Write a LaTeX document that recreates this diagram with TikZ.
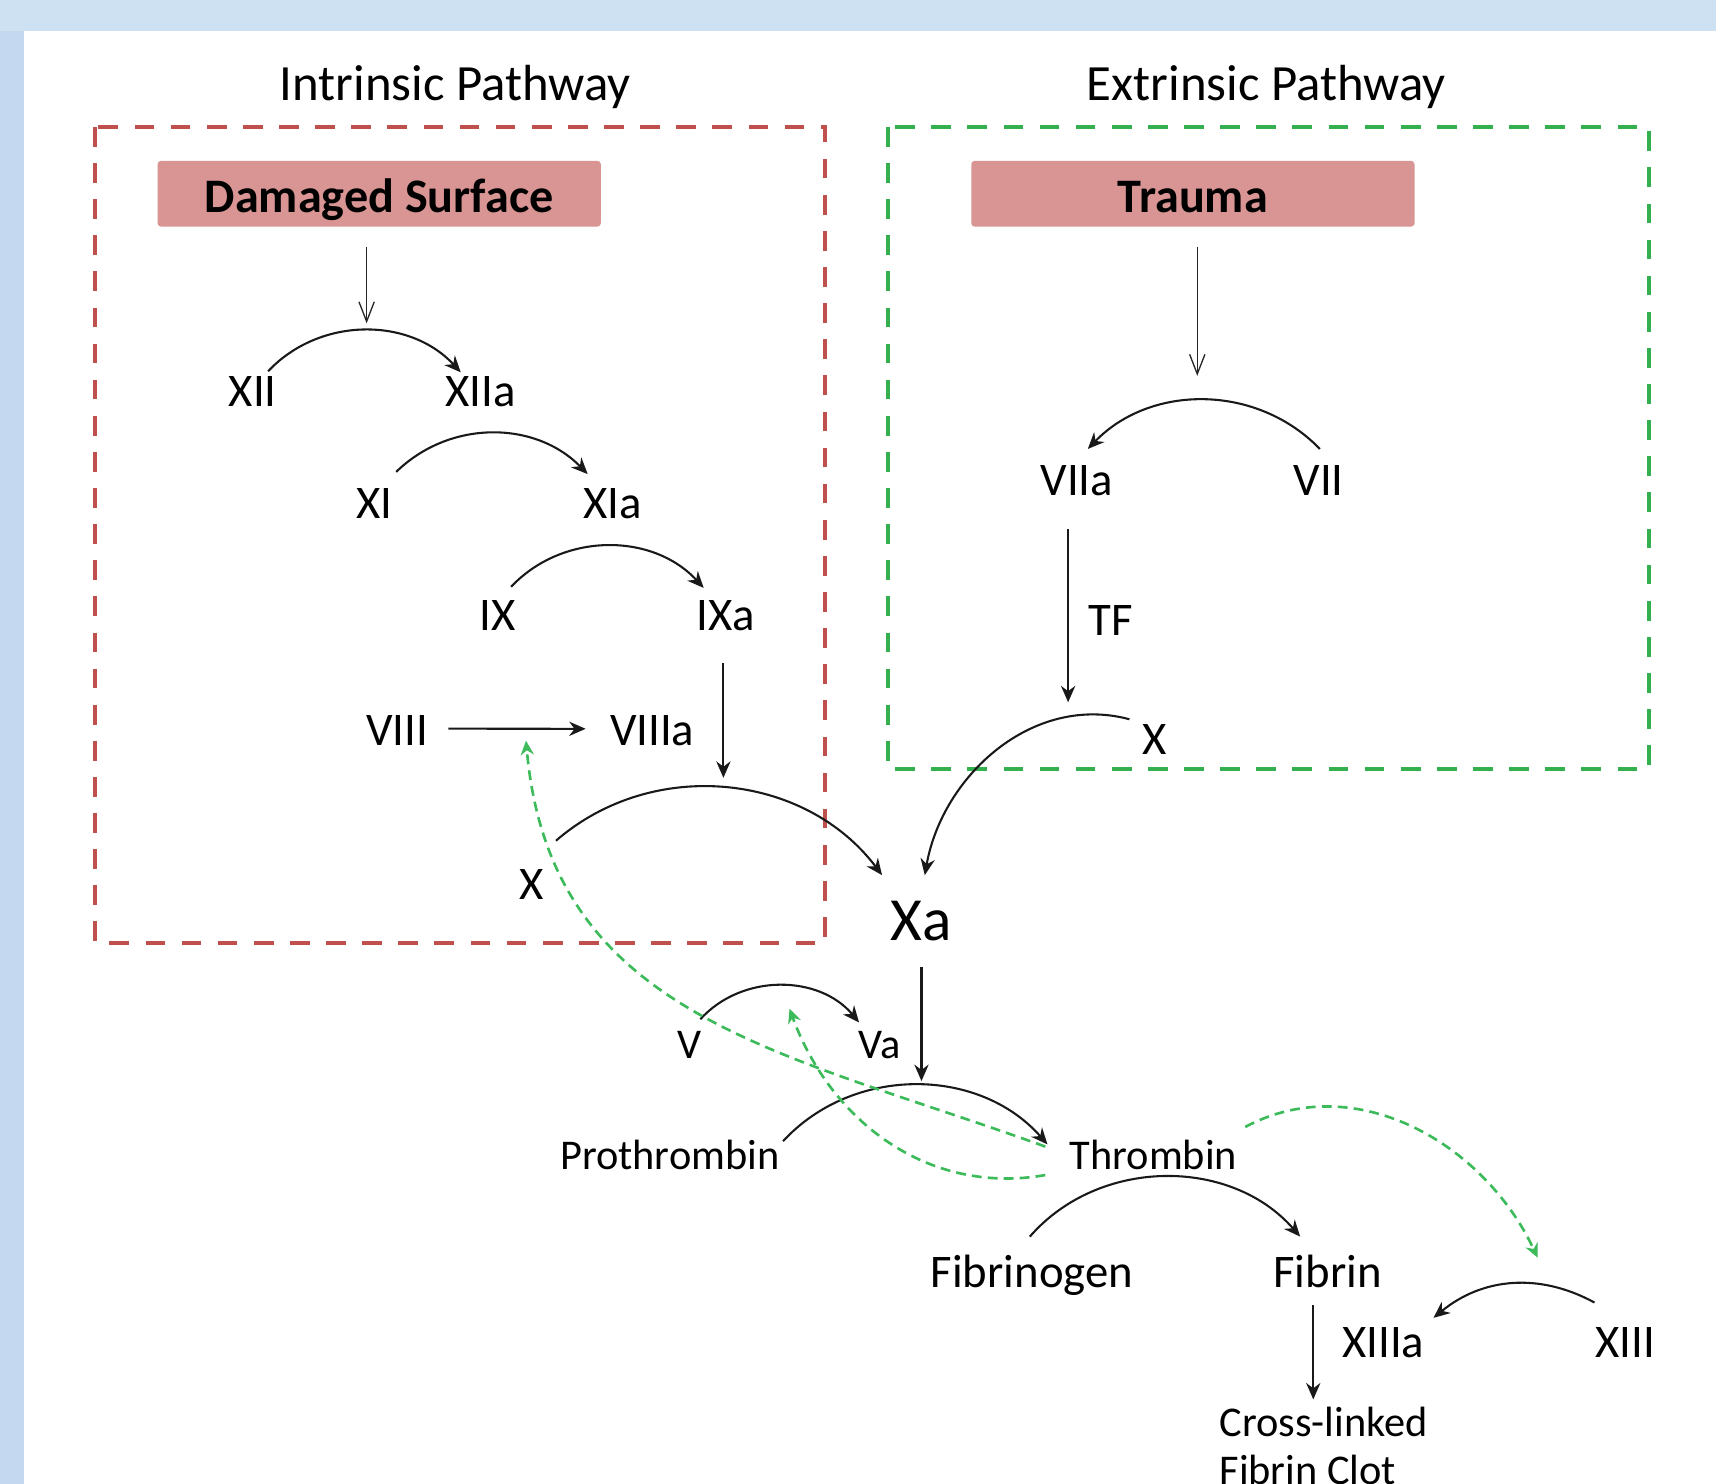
\documentclass[tikz,border=0pt]{standalone}
\usepackage{fontspec}
\setmainfont{Carlito}
\usetikzlibrary{arrows.meta,calc}
\definecolor{bgtop}{HTML}{CEE1F2}
\definecolor{bgleft}{HTML}{C4D9F0}
\definecolor{boxpink}{HTML}{D99594}
\definecolor{redbox}{HTML}{C0504D}
\definecolor{greenbox}{HTML}{34B04E}
\definecolor{fbgreen}{HTML}{3DBB5B}
\begin{document}
\begin{tikzpicture}[x=0.5pt,y=-0.5pt,
  lab/.style={inner sep=0pt, anchor=base, font=\fontsize{21.35}{25}\selectfont},
  slab/.style={inner sep=0pt, anchor=base, font=\fontsize{19.35}{23}\selectfont},
  biglab/.style={inner sep=0pt, anchor=base, font=\fontsize{28}{32}\selectfont},
  ttl/.style={inner sep=0pt, anchor=base, font=\fontsize{23.2}{27}\selectfont},
  pinkbox/.style={fill=boxpink, rounded corners=1.5pt, inner sep=0pt, minimum width=202.5pt, minimum height=30pt, text height=16.9pt, text depth=0pt, font=\bfseries\fontsize{22}{26}\selectfont},
  conv/.style={draw=black!90, line width=0.95pt, -{Stealth[length=7.5pt,width=6.5pt]}},
  lead/.style={draw=black!85, line width=0.6pt, -{Straight Barb[length=9pt,width=7pt]}},
  fb/.style={draw=fbgreen, line width=1.2pt, dash pattern=on 4.5pt off 2.8pt, -{Stealth[length=6.5pt,width=6pt]}},
  pathbox/.style={line width=1.8pt, dash pattern=on 9pt off 7.5pt}
]
\useasboundingbox (0,0) rectangle (1568,1356);
\fill[bgleft] (0,0) rectangle (1568,1356);
\fill[bgtop] (0,0) rectangle (1568,28);
\fill[white] (22,28) rectangle (1568,1356);

% pathway frames
\draw[pathbox, draw=redbox] (87,116) rectangle (754,862);
\draw[pathbox, draw=greenbox] (811,116) rectangle (1507,703);

% titles
\node[ttl] (ti) at (416,92) {Intrinsic Pathway};
\node[ttl] (te) at (1157,92) {Extrinsic Pathway};

% trigger boxes
\node[pinkbox] (DS) at (346.5,177) {Damaged Surface};
\node[pinkbox] (TR) at (1090,177) {Trauma};

% intrinsic labels
\node[lab] (XII) at (231,371.5) {XII};
\node[lab] (XIIa) at (439,371.5) {XIIa};
\node[lab] (XI) at (342,473.5) {XI};
\node[lab] (XIa) at (560,473.5) {XIa};
\node[lab] (IX) at (455,576.5) {IX};
\node[lab] (IXa) at (663,576.5) {IXa};
\node[lab] (VIII) at (363,681.5) {VIII};
\node[lab] (VIIIa) at (596,681.5) {VIIIa};
\node[lab] (Xi) at (486,821.5) {X};

% extrinsic labels
\node[lab] (VIIa) at (984,452.5) {VIIa};
\node[lab] (VII) at (1205,452.5) {VII};
\node[lab] (TF) at (1015,580.5) {TF};
\node[lab] (Xe) at (1055,689.5) {X};

% common pathway
\node[biglab] (Xa) at (842,859) {Xa};
\node[slab] (V) at (630,967) {V};
\node[slab] (Va) at (804,967) {Va};
\node[slab] (Pro) at (612,1069) {Prothrombin};
\node[slab] (Thr) at (1054,1069) {Thrombin};
\node[lab] (Fbg) at (943,1176.5) {Fibrinogen};
\node[lab] (Fbn) at (1213,1176.5) {Fibrin};
\node[lab] (XIIIa) at (1264,1240.5) {XIIIa};
\node[lab] (XIII) at (1485,1240.5) {XIII};
\node[slab, anchor=base west] (CL) at (1114,1313) {Cross-linked};
\node[slab, anchor=base west] (FC) at (1114,1356) {Fibrin Clot};

% leads from triggers
\draw[lead] ($(DS.south)+(-11.5,18)$) -- ($(DS.south)+(-11.5,88)$);
\draw[lead] ($(TR.south)+(4,18)$) -- ($(TR.south)+(4,136)$);

% intrinsic cascade
\draw[conv] ($(XII.north)+(14,-4.5)$) to[bend left=47] ($(XIIa.north)+(-18,-3.5)$);
\draw[conv] ($(XI.north)+(20,-14.5)$) to[bend left=45] ($(XIa.north)+(-23,-12.5)$);
\draw[conv] ($(IX.north)+(12,-12.5)$) to[bend left=47] ($(IXa.north)+(-20,-11.5)$);
\draw[conv] ($(VIII.east)+(18,-2)$) -- ($(VIIIa.west)+(-22,-2)$);
\draw[conv] ($(IXa.south)+(-2,28.5)$) -- ($(IXa.south)+(-2,133.5)$);
\draw[conv] ($(Xi.north)+(22,-25.5)$) to[bend left=47] ($(Xa.north)+(-36,-23)$);

% extrinsic cascade
\draw[conv] ($(VII.north)+(1,-14.5)$) to[bend right=46] ($(VIIa.north)+(10,-14.5)$);
\draw[conv] ($(VIIa.south)+(-8,30.5)$) -- ($(VIIa.south)+(-8,188.5)$);
\draw[conv] ($(Xe.north)+(-23,-4.5)$) to[out=165,in=80] ($(Xa.north)+(3,-23)$);

% common pathway
\draw[conv] ($(Xa.south)+(0,24)$) -- ($(Xa.south)+(0,128)$);
\draw[conv] ($(V.north)+(10,-10.5)$) to[bend left=49] ($(Va.north)+(-19,-7.5)$);
\draw[conv] ($(Pro.east)+(3,-13)$) to[bend left=48] ($(Thr.west)+(-20,-10)$);
\draw[conv] ($(Fbg.north)+(-2,-16.5)$) to[bend left=49] ($(Fbn.north)+(-25,-16.5)$);
\draw[conv] ($(Fbn.south)+(-13,15.5)$) -- ($(Fbn.south)+(-13,101.5)$);
\draw[conv] ($(XIII.north)+(-28,-22.5)$) to[bend right=34] ($(XIIIa.north east)+(8,-8.5)$);

% thrombin feedback
\draw[fb] ($(Thr.west)+(-22,-8)$) to[out=160,in=-85,looseness=1.08] ($(VIII.east)+(89,9)$);
\draw[fb] ($(Thr.west)+(-22,18)$) to[out=190,in=-70] ($(Va.west)+(-63,-33)$);
\draw[fb] ($(Thr.east)+(7,-26)$) to[out=28,in=115] ($(XIII.north)+(-80,-63.5)$);
\end{tikzpicture}
\end{document}
